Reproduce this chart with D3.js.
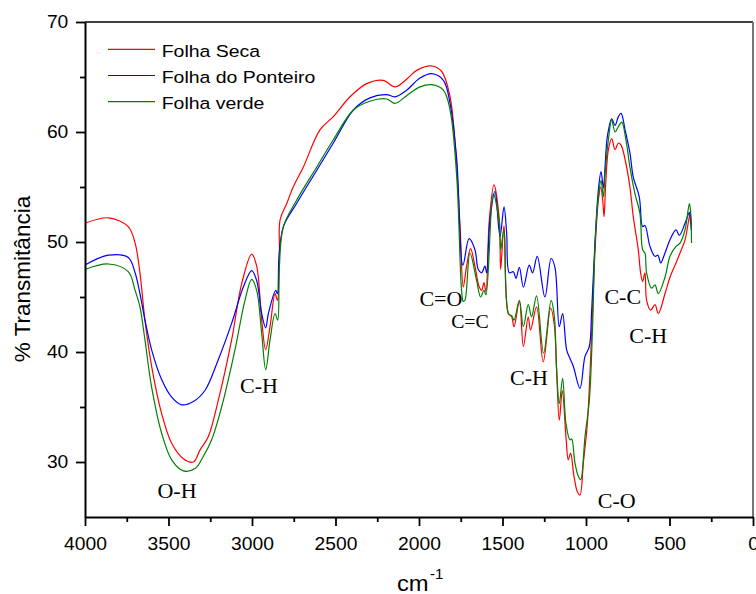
<!DOCTYPE html>
<html>
<head>
<meta charset="utf-8">
<script src="https://cdn.jsdelivr.net/npm/d3@7"></script>
<style>
  html, body { margin: 0; padding: 0; background: #fff; }
  svg { display: block; }
</style>
</head>
<body>
<div id="chart"></div>
<script>
// ---- data ----
const seriesNames = ["Folha Seca", "Folha do Ponteiro", "Folha verde"];
const seriesColors = ["#ff0000", "#0000ff", "#008000"];

const wnSeca = [4000,3860,3741,3700,3671,3641,3601,3541,3481,3411,3351,3311,3262,3202,3122,3062,3002,2972,2942,2918,2892,2862,2848,2836,2832,2792,2753,2693,2593,2513,2413,2313,2214,2144,2074,2014,1924,1864,1814,1784,1754,1735,1715,1691,1665,1639,1625,1611,1599,1579,1551,1519,1511,1491,1465,1445,1431,1399,1375,1346,1332,1296,1256,1212,1190,1176,1160,1142,1120,1106,1092,1072,1052,1036,1016,992,966,946,926,912,900,892,882,866,846,826,806,790,766,737,717,687,673,661,647,637,613,587,567,527,497,461,437,407,381,375,368];
const seca = [51.7,52.2,51.4,49.9,47.2,42.9,38.7,34.4,31.7,30.3,30.0,31.1,32.3,35.6,41.1,46.2,48.9,47.8,42.9,40.2,42.3,45.3,44.7,49.0,52.0,53.5,55.0,56.8,60.2,61.4,63.2,64.4,64.7,64.1,64.8,65.6,66.0,65.5,63.2,59.0,51.4,45.9,47.8,49.4,47.8,45.9,45.6,46.3,45.5,52.0,55.2,52.0,47.5,51.5,43.5,43.2,42.3,44.6,40.5,43.2,42.0,44.1,39.1,44.0,42.5,38.4,33.8,36.5,32.3,30.2,30.8,28.7,27.3,27.0,29.9,33.5,41.7,49.3,53.8,55.0,53.8,52.3,55.3,58.4,59.4,58.4,59.0,58.8,57.5,55.0,52.3,49.3,47.2,46.4,47.2,44.7,43.8,44.3,43.5,45.3,46.8,48.1,49.0,50.2,52.3,52.6,51.5];

const wnPonteiro = [4000,3860,3741,3700,3671,3641,3601,3541,3481,3421,3351,3282,3202,3122,3052,3002,2972,2942,2918,2902,2858,2848,2838,2812,2733,2613,2513,2393,2294,2194,2144,2074,1994,1924,1854,1814,1774,1737,1700,1665,1645,1625,1605,1595,1575,1545,1515,1491,1475,1459,1435,1419,1399,1375,1340,1320,1292,1246,1209,1186,1160,1140,1116,1096,1076,1036,1006,980,966,946,926,910,896,886,872,846,826,806,790,766,737,717,681,661,647,617,587,569,553,527,497,461,441,407,381,375,369];
const ponteiro = [47.9,48.8,48.6,47.2,45.3,42.9,40.2,37.5,35.9,35.2,35.5,36.5,39.3,42.6,45.9,47.4,46.5,43.5,42.2,43.5,45.6,45.3,48.7,51.4,53.5,56.5,59.0,62.0,63.1,63.4,63.2,63.8,64.9,65.3,64.7,62.6,57.5,47.9,50.3,49.3,47.5,47.2,47.8,47.2,52.0,54.6,50.5,53.2,50.8,47.2,47.3,46.7,47.7,45.9,47.9,47.2,48.7,45.0,48.5,47.7,42.3,43.5,40.2,39.4,38.7,36.7,39.6,40.5,43.8,50.0,54.7,56.4,54.9,56.8,59.6,61.2,60.6,61.4,61.7,60.2,58.1,55.9,54.1,51.4,51.5,49.6,48.7,48.8,48.1,49.0,50.2,51.1,50.6,51.7,52.7,52.0,51.1];

const wnVerde = [4000,3860,3741,3700,3671,3641,3601,3541,3481,3411,3341,3292,3242,3182,3102,3042,3002,2972,2942,2918,2892,2862,2846,2836,2812,2733,2613,2513,2393,2294,2194,2144,2074,1994,1924,1854,1814,1774,1745,1735,1725,1695,1655,1631,1611,1599,1555,1519,1511,1491,1465,1445,1431,1399,1375,1346,1326,1296,1254,1209,1190,1176,1160,1140,1120,1096,1086,1066,1046,1032,1006,980,960,946,926,910,896,886,866,846,826,806,786,761,737,707,677,661,647,637,607,587,567,527,497,461,437,407,381,375,368];
const verde = [47.5,48.0,47.3,45.6,44.1,41.1,36.8,32.6,30.2,29.2,29.4,30.5,32.0,35.0,40.2,44.7,46.6,45.6,41.7,38.4,41.1,43.5,42.9,47.8,51.4,53.8,56.8,59.3,62.0,62.8,63.0,62.6,63.3,64.1,64.3,63.8,62.0,55.9,45.6,44.6,44.7,49.0,46.5,45.0,45.6,45.2,54.4,51.7,49.3,51.1,43.5,43.3,42.9,44.7,42.3,44.3,43.2,45.1,39.9,44.7,43.3,38.4,35.3,37.6,33.5,32.0,32.1,29.9,28.7,28.4,32.3,35.6,42.6,49.8,54.1,55.6,54.1,56.2,59.3,61.1,60.0,60.5,60.9,59.3,56.8,54.4,52.6,49.3,49.0,47.2,45.8,46.1,45.3,46.8,48.7,49.6,49.9,51.1,53.5,53.0,49.9];

const xMajorTicks = [4000,3500,3000,2500,2000,1500,1000,500,0];
const xMinorTicks = [3750,3250,2750,2250,1750,1250,750,250];
const yMajorTicks = [30,40,50,60,70];
const yMinorTicks = [35,45,55,65];

const annotations = ["O-H","C-H","C=O","C=C","C-H","C-O","C-C","C-H"];
const annotWn = [3449,2958,1869,1695,1341,816,780,627];
const annotVal = [26.7,36.25,44.2,42.15,37.0,25.8,44.4,40.85];
const annotSize = [20,20,20,18,20,20,20,20];

const xTitle = "cm";
const xTitleSup = "-1";
const yTitle = "% Transmitância";

// ---- drawing ----
const W = 756, H = 594;
const svg = d3.select("#chart").append("svg").attr("width", W).attr("height", H);

const x = d3.scaleLinear().domain([4000, 0]).range([85, 753]);
const y = d3.scaleLinear().domain([25, 70]).range([517, 22]);

const sans = "'Liberation Sans', Arial, sans-serif";
const serif = "'Liberation Serif', 'Times New Roman', serif";

// frame top + right
svg.append("line").attr("x1", x(4000)).attr("x2", x(0)).attr("y1", y(70)).attr("y2", y(70))
  .attr("stroke", "#000").attr("stroke-width", 1.3);
svg.append("line").attr("x1", x(0)).attr("x2", x(0)).attr("y1", y(70)).attr("y2", y(25))
  .attr("stroke", "#777").attr("stroke-width", 2);

// series
const seriesData = [
  d3.zip(wnSeca, seca),
  d3.zip(wnPonteiro, ponteiro),
  d3.zip(wnVerde, verde)
];
const line = d3.line().x(d => x(d[0])).y(d => y(d[1])).curve(d3.curveCatmullRom.alpha(0.5));
seriesData.forEach((s, i) => {
  svg.append("path").datum(s).attr("d", line)
    .attr("fill", "none").attr("stroke", seriesColors[i]).attr("stroke-width", 1.2)
    .attr("stroke-linejoin", "round");
});

// axes
const xAxis = svg.append("g").attr("transform", `translate(0,${y(25)})`)
  .call(d3.axisBottom(x).tickValues(xMajorTicks).tickSize(9).tickSizeOuter(0).tickPadding(12).tickFormat(d3.format("d")));
svg.append("g").attr("transform", `translate(0,${y(25)})`)
  .call(d3.axisBottom(x).tickValues(xMinorTicks).tickSize(5).tickSizeOuter(0).tickFormat(""))
  .call(g => g.select(".domain").remove());
const yAxis = svg.append("g").attr("transform", `translate(${x(4000)},0)`)
  .call(d3.axisLeft(y).tickValues(yMajorTicks).tickSize(9).tickSizeOuter(0).tickFormat(d3.format("d")));
svg.append("g").attr("transform", `translate(${x(4000)},0)`)
  .call(d3.axisLeft(y).tickValues(yMinorTicks).tickSize(5).tickSizeOuter(0).tickFormat(""))
  .call(g => g.select(".domain").remove());

svg.selectAll(".domain").attr("stroke", "#000").attr("stroke-width", 2);
svg.selectAll(".tick line").attr("stroke", "#000").attr("stroke-width", 1.8);
xAxis.selectAll("text").attr("font-family", sans).attr("font-size", 17.5).attr("fill", "#000")
  .attr("transform", "scale(1.1,1)");
yAxis.selectAll("text").attr("font-family", sans).attr("font-size", 17.5).attr("fill", "#000")
  .attr("x", -16.7 / 1.1).attr("transform", "scale(1.1,1)");

// axis titles
svg.append("text").attr("transform", `translate(397,590.5) scale(1.08,1)`)
  .attr("font-family", sans).attr("font-size", 22).text(xTitle);
svg.append("text").attr("transform", `translate(430,579) scale(1.08,1)`)
  .attr("font-family", sans).attr("font-size", 14).text(xTitleSup);
svg.append("text").attr("transform", `translate(30,279) rotate(-90)`)
  .attr("text-anchor", "middle").attr("font-family", sans).attr("font-size", 22.5).text(yTitle);

// legend
const legY0 = 49.3, legDy = 26.2;
seriesNames.forEach((n, i) => {
  const ly = legY0 + i * legDy;
  svg.append("line").attr("x1", 108).attr("x2", 155).attr("y1", ly).attr("y2", ly)
    .attr("stroke", seriesColors[i]).attr("stroke-width", 1.2);
  svg.append("text").attr("transform", `translate(161.7,${ly + 7.4}) scale(1.18,1)`)
    .attr("font-family", sans).attr("font-size", 16.5).text(n);
});

// annotations
annotations.forEach((t, i) => {
  svg.append("text").attr("transform", `translate(${x(annotWn[i])},${y(annotVal[i])}) scale(1.1,1)`)
    .attr("text-anchor", "middle").attr("font-family", serif).attr("font-size", annotSize[i])
    .attr("fill", "#000").text(t);
});
</script>
</body>
</html>
